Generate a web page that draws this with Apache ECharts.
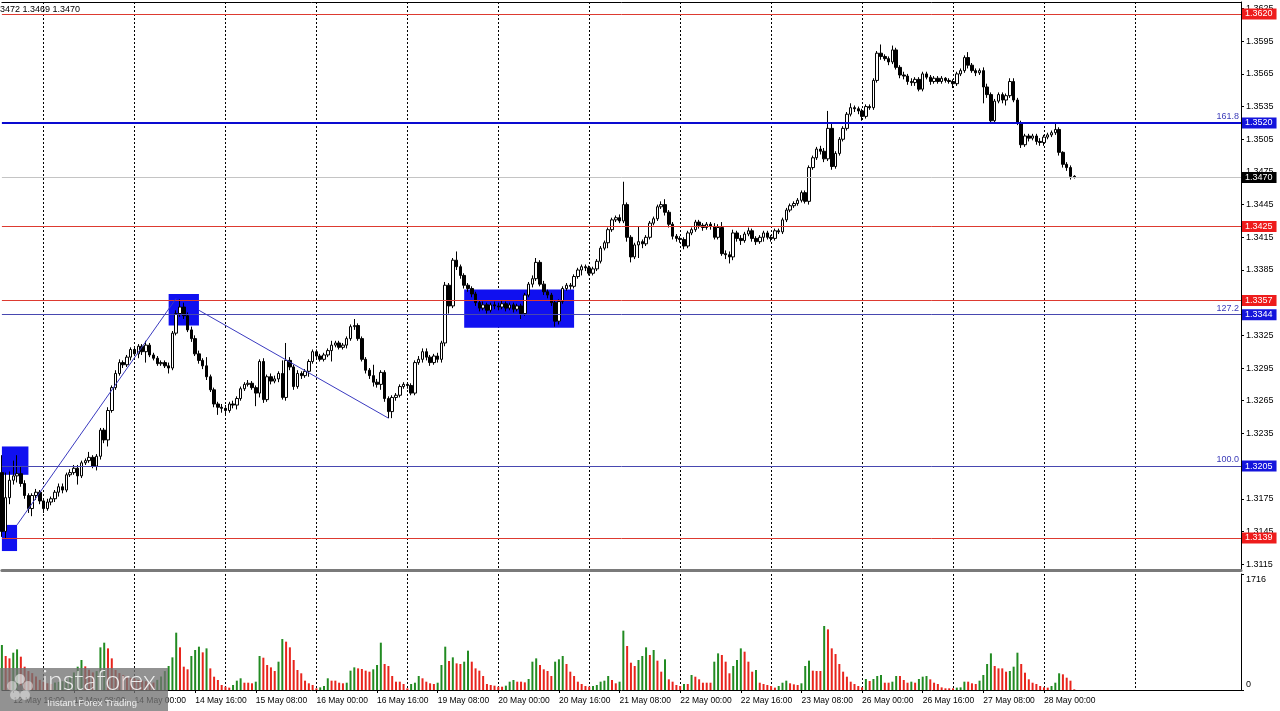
<!DOCTYPE html>
<html><head><meta charset="utf-8">
<script src="https://cdn.jsdelivr.net/npm/echarts@6/dist/echarts.min.js"></script>
<style>html,body{margin:0;padding:0;background:#fff}#c{width:1280px;height:711px}</style>
</head><body><div id="c"></div>
<script>
// ---- timeline (hourly bars, trading days only) ----
const tradingDays = ['12 May','13 May','14 May','15 May','16 May','19 May','20 May','21 May','22 May','23 May','26 May','27 May','28 May','29 May'];
const firstHour = 13;      // first bar on screen: 12 May 13:00
const slotCount = 328;     // bar slots across the chart, incl. empty space on the right

// ---- GBP/USD H1 candles ----
const opens = [
1.3199,1.3145,1.3176,1.3192,1.3196,1.3198,1.3189,1.3178,1.3166,1.3178,
1.3181,1.3173,1.3166,1.3172,1.3175,1.3181,1.3186,1.3183,1.3197,1.3199,
1.3203,1.3196,1.3208,1.3210,1.3213,1.3205,1.3214,1.3238,1.3229,1.3256,
1.3277,1.3290,1.3300,1.3298,1.3305,1.3312,1.3308,1.3315,1.3310,1.3316,
1.3307,1.3304,1.3299,1.3300,1.3297,1.3295,1.3327,1.3345,1.3351,1.3343,
1.3330,1.3322,1.3308,1.3302,1.3297,1.3287,1.3275,1.3262,1.3259,1.3258,
1.3256,1.3262,1.3261,1.3267,1.3276,1.3280,1.3281,1.3277,1.3272,1.3301,
1.3266,1.3287,1.3283,1.3285,1.3290,1.3268,1.3302,1.3296,1.3278,1.3290,
1.3288,1.3292,1.3301,1.3310,1.3306,1.3303,1.3307,1.3311,1.3316,1.3318,
1.3314,1.3316,1.3322,1.3333,1.3334,1.3322,1.3303,1.3293,1.3288,1.3282,
1.3280,1.3291,1.3267,1.3255,1.3268,1.3270,1.3278,1.3280,1.3279,1.3272,
1.3300,1.3303,1.3310,1.3305,1.3300,1.3306,1.3303,1.3318,1.3371,1.3352,
1.3394,1.3388,1.3380,1.3371,1.3368,1.3363,1.3355,1.3350,1.3353,1.3348,
1.3353,1.3352,1.3351,1.3354,1.3350,1.3353,1.3349,1.3352,1.3345,1.3362,
1.3372,1.3377,1.3392,1.3372,1.3365,1.3362,1.3355,1.3338,1.3356,1.3368,
1.3371,1.3370,1.3379,1.3385,1.3388,1.3387,1.3382,1.3386,1.3393,1.3405,
1.3410,1.3422,1.3431,1.3433,1.3430,1.3445,1.3415,1.3397,1.3408,1.3411,
1.3409,1.3415,1.3428,1.3432,1.3443,1.3445,1.3438,1.3427,1.3416,1.3414,
1.3413,1.3407,1.3419,1.3422,1.3429,1.3426,1.3424,1.3427,1.3425,1.3415,
1.3424,1.3400,1.3399,1.3397,1.3419,1.3414,1.3412,1.3418,1.3421,1.3414,
1.3411,1.3415,1.3419,1.3415,1.3414,1.3421,1.3420,1.3431,1.3440,1.3444,
1.3446,1.3449,1.3456,1.3448,1.3479,1.3488,1.3496,1.3494,1.3487,1.3515,
1.3480,1.3492,1.3505,1.3515,1.3528,1.3534,1.3533,1.3531,1.3526,1.3535,
1.3534,1.3559,1.3584,1.3581,1.3579,1.3576,1.3587,1.3571,1.3564,1.3563,
1.3558,1.3557,1.3560,1.3551,1.3565,1.3562,1.3558,1.3561,1.3558,1.3561,
1.3559,1.3558,1.3556,1.3565,1.3568,1.3580,1.3573,1.3568,1.3566,1.3568,
1.3553,1.3546,1.3522,1.3540,1.3546,1.3541,1.3545,1.3558,1.3541,1.3520,
1.3500,1.3508,1.3506,1.3508,1.3503,1.3502,1.3507,1.3509,1.3511,1.3514,
1.3493,1.3482,1.3479,1.3471];
const closes = [
1.3145,1.3176,1.3192,1.3196,1.3198,1.3189,1.3178,1.3166,1.3178,1.3181,
1.3173,1.3166,1.3172,1.3175,1.3181,1.3186,1.3183,1.3197,1.3199,1.3203,
1.3196,1.3208,1.3210,1.3213,1.3205,1.3214,1.3238,1.3229,1.3256,1.3277,
1.3290,1.3300,1.3298,1.3305,1.3312,1.3308,1.3315,1.3310,1.3316,1.3307,
1.3304,1.3299,1.3300,1.3297,1.3295,1.3327,1.3345,1.3351,1.3343,1.3330,
1.3322,1.3308,1.3302,1.3297,1.3287,1.3275,1.3262,1.3259,1.3258,1.3256,
1.3262,1.3261,1.3267,1.3276,1.3280,1.3281,1.3277,1.3272,1.3301,1.3266,
1.3287,1.3283,1.3285,1.3290,1.3268,1.3302,1.3296,1.3278,1.3290,1.3288,
1.3292,1.3301,1.3310,1.3306,1.3303,1.3307,1.3311,1.3316,1.3318,1.3314,
1.3316,1.3322,1.3333,1.3334,1.3322,1.3303,1.3293,1.3288,1.3282,1.3280,
1.3291,1.3267,1.3255,1.3268,1.3270,1.3278,1.3280,1.3279,1.3272,1.3300,
1.3303,1.3310,1.3305,1.3300,1.3306,1.3303,1.3318,1.3371,1.3352,1.3394,
1.3388,1.3380,1.3371,1.3368,1.3363,1.3355,1.3350,1.3353,1.3348,1.3353,
1.3352,1.3351,1.3354,1.3350,1.3353,1.3349,1.3352,1.3345,1.3362,1.3372,
1.3377,1.3392,1.3372,1.3365,1.3362,1.3355,1.3338,1.3356,1.3368,1.3371,
1.3370,1.3379,1.3385,1.3388,1.3387,1.3382,1.3386,1.3393,1.3405,1.3410,
1.3422,1.3431,1.3433,1.3430,1.3445,1.3415,1.3397,1.3408,1.3411,1.3409,
1.3415,1.3428,1.3432,1.3443,1.3445,1.3438,1.3427,1.3416,1.3414,1.3413,
1.3407,1.3419,1.3422,1.3429,1.3426,1.3424,1.3427,1.3425,1.3415,1.3424,
1.3400,1.3399,1.3397,1.3419,1.3414,1.3412,1.3418,1.3421,1.3414,1.3411,
1.3415,1.3419,1.3415,1.3414,1.3421,1.3420,1.3431,1.3440,1.3444,1.3446,
1.3449,1.3456,1.3448,1.3479,1.3488,1.3496,1.3494,1.3487,1.3515,1.3480,
1.3492,1.3505,1.3515,1.3528,1.3534,1.3533,1.3531,1.3526,1.3535,1.3534,
1.3559,1.3584,1.3581,1.3579,1.3576,1.3587,1.3571,1.3564,1.3563,1.3558,
1.3557,1.3560,1.3551,1.3565,1.3562,1.3558,1.3561,1.3558,1.3561,1.3559,
1.3558,1.3556,1.3565,1.3568,1.3580,1.3573,1.3568,1.3566,1.3568,1.3553,
1.3546,1.3522,1.3540,1.3546,1.3541,1.3545,1.3558,1.3541,1.3520,1.3500,
1.3508,1.3506,1.3508,1.3503,1.3502,1.3507,1.3509,1.3511,1.3514,1.3493,
1.3482,1.3479,1.3471,1.3470];
const lows = [
1.3140,1.3139,1.3170,1.3188,1.3190,1.3186,1.3175,1.3162,1.3159,1.3174,
1.3170,1.3162,1.3164,1.3169,1.3172,1.3177,1.3180,1.3181,1.3195,1.3197,
1.3188,1.3194,1.3206,1.3208,1.3203,1.3201,1.3211,1.3226,1.3223,1.3254,
1.3275,1.3288,1.3295,1.3296,1.3302,1.3306,1.3304,1.3307,1.3300,1.3305,
1.3302,1.3297,1.3297,1.3295,1.3290,1.3293,1.3325,1.3342,1.3340,1.3328,
1.3319,1.3306,1.3299,1.3294,1.3284,1.3273,1.3259,1.3252,1.3254,1.3252,
1.3254,1.3258,1.3257,1.3265,1.3274,1.3278,1.3275,1.3260,1.3268,1.3263,
1.3264,1.3280,1.3281,1.3282,1.3266,1.3265,1.3293,1.3275,1.3276,1.3285,
1.3286,1.3287,1.3299,1.3304,1.3301,1.3301,1.3305,1.3301,1.3314,1.3312,
1.3312,1.3313,1.3320,1.3330,1.3320,1.3301,1.3290,1.3285,1.3278,1.3277,
1.3275,1.3264,1.3249,1.3249,1.3265,1.3268,1.3276,1.3276,1.3270,1.3270,
1.3298,1.3300,1.3302,1.3297,1.3298,1.3300,1.3300,1.3315,1.3345,1.3350,
1.3385,1.3377,1.3368,1.3365,1.3360,1.3352,1.3347,1.3348,1.3345,1.3346,
1.3349,1.3348,1.3349,1.3347,1.3348,1.3346,1.3347,1.3340,1.3343,1.3360,
1.3369,1.3375,1.3370,1.3362,1.3359,1.3352,1.3333,1.3335,1.3354,1.3366,
1.3367,1.3368,1.3377,1.3380,1.3384,1.3380,1.3380,1.3384,1.3391,1.3403,
1.3405,1.3420,1.3429,1.3428,1.3428,1.3411,1.3392,1.3395,1.3396,1.3405,
1.3407,1.3413,1.3426,1.3430,1.3441,1.3435,1.3424,1.3413,1.3411,1.3410,
1.3404,1.3405,1.3417,1.3420,1.3423,1.3421,1.3422,1.3422,1.3413,1.3413,
1.3398,1.3395,1.3391,1.3394,1.3411,1.3408,1.3410,1.3416,1.3411,1.3408,
1.3409,1.3411,1.3413,1.3411,1.3412,1.3418,1.3418,1.3429,1.3438,1.3442,
1.3444,1.3447,1.3446,1.3445,1.3477,1.3486,1.3491,1.3484,1.3485,1.3477,
1.3478,1.3490,1.3503,1.3513,1.3526,1.3530,1.3528,1.3522,1.3524,1.3532,
1.3532,1.3557,1.3578,1.3577,1.3573,1.3574,1.3569,1.3561,1.3560,1.3555,
1.3554,1.3554,1.3549,1.3549,1.3560,1.3555,1.3556,1.3556,1.3556,1.3557,
1.3556,1.3552,1.3554,1.3563,1.3566,1.3570,1.3566,1.3563,1.3564,1.3538,
1.3543,1.3519,1.3520,1.3538,1.3538,1.3536,1.3543,1.3539,1.3518,1.3497,
1.3498,1.3503,1.3504,1.3500,1.3499,1.3499,1.3505,1.3507,1.3509,1.3490,
1.3479,1.3476,1.3468,1.3469];
const highs = [
1.3215,1.3199,1.3200,1.3210,1.3215,1.3205,1.3192,1.3180,1.3180,1.3184,
1.3183,1.3175,1.3175,1.3177,1.3183,1.3189,1.3189,1.3199,1.3202,1.3206,
1.3206,1.3210,1.3212,1.3218,1.3215,1.3216,1.3240,1.3240,1.3259,1.3279,
1.3293,1.3303,1.3302,1.3307,1.3314,1.3314,1.3317,1.3317,1.3320,1.3318,
1.3309,1.3306,1.3302,1.3302,1.3300,1.3329,1.3348,1.3358,1.3355,1.3346,
1.3333,1.3325,1.3311,1.3304,1.3305,1.3289,1.3277,1.3264,1.3262,1.3261,
1.3264,1.3265,1.3269,1.3278,1.3282,1.3284,1.3283,1.3279,1.3303,1.3304,
1.3289,1.3290,1.3288,1.3292,1.3302,1.3318,1.3305,1.3298,1.3293,1.3292,
1.3294,1.3303,1.3312,1.3312,1.3308,1.3309,1.3313,1.3320,1.3320,1.3320,
1.3318,1.3324,1.3335,1.3340,1.3336,1.3324,1.3305,1.3295,1.3298,1.3285,
1.3293,1.3293,1.3269,1.3270,1.3272,1.3280,1.3282,1.3282,1.3281,1.3302,
1.3306,1.3313,1.3313,1.3307,1.3308,1.3309,1.3320,1.3374,1.3373,1.3396,
1.3402,1.3390,1.3382,1.3373,1.3370,1.3365,1.3357,1.3356,1.3355,1.3355,
1.3356,1.3355,1.3357,1.3356,1.3355,1.3355,1.3354,1.3354,1.3364,1.3374,
1.3380,1.3396,1.3394,1.3375,1.3367,1.3364,1.3357,1.3358,1.3370,1.3373,
1.3373,1.3381,1.3387,1.3390,1.3390,1.3389,1.3388,1.3395,1.3407,1.3412,
1.3424,1.3433,1.3435,1.3436,1.3466,1.3447,1.3417,1.3410,1.3425,1.3413,
1.3417,1.3430,1.3434,1.3445,1.3448,1.3450,1.3440,1.3429,1.3418,1.3416,
1.3415,1.3421,1.3424,1.3431,1.3431,1.3428,1.3429,1.3429,1.3428,1.3427,
1.3429,1.3403,1.3402,1.3422,1.3421,1.3417,1.3420,1.3424,1.3423,1.3416,
1.3417,1.3421,1.3421,1.3417,1.3423,1.3423,1.3433,1.3442,1.3446,1.3448,
1.3451,1.3458,1.3458,1.3481,1.3490,1.3498,1.3499,1.3497,1.3531,1.3520,
1.3494,1.3507,1.3517,1.3530,1.3538,1.3536,1.3535,1.3533,1.3537,1.3537,
1.3561,1.3586,1.3592,1.3583,1.3581,1.3591,1.3589,1.3573,1.3567,1.3565,
1.3561,1.3562,1.3562,1.3567,1.3567,1.3564,1.3563,1.3563,1.3563,1.3562,
1.3561,1.3560,1.3567,1.3570,1.3582,1.3585,1.3575,1.3570,1.3570,1.3571,
1.3556,1.3548,1.3542,1.3548,1.3548,1.3547,1.3561,1.3561,1.3543,1.3522,
1.3510,1.3510,1.3510,1.3510,1.3506,1.3509,1.3511,1.3513,1.3520,1.3516,
1.3494,1.3484,1.3481,1.3472];
// ---- tick volumes ----
const volumes = [
666,503,468,552,601,493,345,280,250,200,
150,120,100,90,110,120,130,150,200,260,
345,444,350,300,260,280,631,700,616,468,
296,250,220,200,180,170,150,140,130,120,
110,150,200,280,355,483,848,631,345,306,
503,592,641,557,616,320,197,148,74,49,
35,74,138,173,108,108,99,123,503,478,
370,335,281,419,754,715,631,444,296,247,
138,99,74,25,39,59,173,138,138,108,
99,108,286,335,320,311,286,271,306,370,
700,385,355,207,123,123,89,25,89,108,
207,173,123,99,89,108,370,641,429,483,
394,385,419,582,419,320,286,207,89,74,
64,49,49,64,123,148,123,123,113,163,
419,468,370,306,281,207,419,454,503,385,
271,207,123,89,59,49,59,74,123,138,
207,148,99,123,878,651,404,355,444,503,
631,518,592,434,271,454,158,123,74,59,
89,89,222,197,158,108,108,108,419,542,
518,419,247,355,444,616,567,419,271,296,
108,89,74,59,35,59,108,138,99,84,
74,99,355,434,286,281,281,947,897,616,
532,385,271,197,123,89,59,39,163,133,
163,207,222,108,108,123,207,207,148,108,
123,108,163,197,207,158,108,89,39,25,
25,25,35,39,123,123,99,89,138,222,
385,542,355,320,320,271,281,345,552,385,
256,158,108,89,59,39,35,59,108,247,
232,182,138,10];

// ---- axis ticks ----
const priceTicks = [1.3115,1.3145,1.3175,1.3205,1.3235,1.3265,1.3295,1.3325,1.3355,1.3385,1.3415,1.3445,1.3475,1.3505,1.3535,1.3565,1.3595,1.3625];
const volumeTicks = [0, 1716];

// ---- drawn objects ----
const redLevels = [1.3620, 1.3425, 1.3357, 1.3139];
const fibLevels = [1.3520, 1.3344, 1.3205];
const fibNames = ['161.8', '127.2', '100.0'];
const lastPrice = 1.3470;
const headerText = '3472 1.3469 1.3470';
// zones: [first bar, last bar, low, high]
const zones = [[0, 7, 1.3197, 1.3223], [0, 4, 1.3127, 1.3151], [44, 52, 1.3334, 1.3363], [122, 151, 1.3332, 1.3367]];
// trend lines: [bar, price, bar, price]
const trendLines = [[4, 1.3151, 46, 1.3359], [52, 1.3348, 102, 1.3249]];

// ---- build ----
const categories = [];
tradingDays.forEach((d, k) => {
  for (let h = (k === 0 ? firstHour : 0); h < 24; h++) categories.push(d + ' ' + String(h).padStart(2, '0') + ':00');
});
while (categories.length < slotCount) categories.push(' '.repeat(categories.length - 300));
categories.length = slotCount;

const candleData = opens.map((o, i) => [o, closes[i], lows[i], highs[i]]);
const GREEN = '#228b22', RED = '#e8241c';
const volData = volumes.map((v, i) => ({ value: v, itemStyle: { color: (i === 0 || v > volumes[i - 1]) ? GREEN : RED } }));

const FONT = 'Liberation Sans';
const isMidnight = (i) => /00:00$/.test(categories[i] || '');
const isLabelBar = (i) => i % 16 === 3 && i < opens.length;

function boxLabel(bg) {
  return { show: true, position: 'end', distance: 1, formatter: p => Number(p.value).toFixed(4), backgroundColor: bg, color: '#fff',
    fontFamily: FONT, fontSize: 9, padding: [1, 4, 0, 3], lineHeight: 10 };
}
const lineData = [];
redLevels.forEach(v => lineData.push({ yAxis: v, lineStyle: { color: '#dd3a30', width: 1, type: 'solid' }, label: boxLabel('#ee1c1c') }));
fibLevels.forEach((v, i) => {
  lineData.push({ yAxis: v, lineStyle: { color: i === 0 ? '#0a0ad0' : '#4848b0', width: i === 0 ? 2 : 1, type: 'solid' }, label: boxLabel('#1414dc') });
  lineData.push({ yAxis: v, name: fibNames[i], lineStyle: { color: 'rgba(0,0,0,0)', width: 1 },
    label: { show: true, position: 'insideEndTop', distance: 2, formatter: '{b}', color: '#3a3ab8', fontFamily: FONT, fontSize: 9 } });
});
lineData.push({ yAxis: lastPrice, lineStyle: { color: '#c4c4c4', width: 1, type: 'solid' }, label: boxLabel('#000') });
trendLines.forEach(t => lineData.push([
  { coord: [categories[t[0]], t[1]], lineStyle: { color: '#3a3ac0', width: 1, type: 'solid' }, label: { show: false } },
  { coord: [categories[t[2]], t[3]] }
]));

const areaData = zones.map(z => [{ coord: [categories[z[0]], z[3]] }, { coord: [categories[z[1]], z[2]] }]);

const chart = echarts.init(document.getElementById('c'), null, { renderer: 'canvas' });
chart.setOption({
  animation: false,
  backgroundColor: '#fff',
  textStyle: { fontFamily: FONT },
  grid: [
    { left: 1.9, right: 39, top: 2, height: 568 },
    { left: 1.9, right: 39, top: 574, height: 116 }
  ],
  xAxis: [
    { gridIndex: 0, type: 'category', data: categories, boundaryGap: false,
      axisLine: { show: true, lineStyle: { color: '#7a7a7a', width: 3 } }, axisTick: { show: false }, axisLabel: { show: false },
      splitLine: { show: true, interval: isMidnight, lineStyle: { color: '#000', width: 1, type: [2, 2] } } },
    { gridIndex: 0, type: 'category', data: categories, boundaryGap: false, position: 'top',
      axisLine: { show: true, lineStyle: { color: '#000', width: 1 } }, axisTick: { show: false }, axisLabel: { show: false }, splitLine: { show: false } },
    { gridIndex: 1, type: 'category', data: categories, boundaryGap: false, position: 'bottom',
      axisLine: { show: true, lineStyle: { color: '#000', width: 1 } },
      axisTick: { show: true, interval: isLabelBar, length: 3, lineStyle: { color: '#000' } },
      axisLabel: { show: true, interval: isLabelBar, align: 'left', margin: 6, color: '#000', fontSize: 8.5, fontFamily: FONT },
      splitLine: { show: true, interval: isMidnight, lineStyle: { color: '#000', width: 1, type: [2, 2] } } }
  ],
  yAxis: [
    { gridIndex: 0, type: 'value', position: 'right', min: 1.31096, max: 1.3631, scale: true,
      axisLine: { show: true, lineStyle: { color: '#000' } },
      axisTick: { show: true, customValues: priceTicks, length: 3, lineStyle: { color: '#000' } },
      axisLabel: { show: true, customValues: priceTicks, formatter: v => v.toFixed(4), margin: 5, color: '#000', fontSize: 9, fontFamily: FONT },
      splitLine: { show: false } },
    { gridIndex: 1, type: 'value', position: 'right', min: 0, max: 1716,
      axisLine: { show: true, lineStyle: { color: '#000' } },
      axisTick: { show: true, customValues: volumeTicks, length: 3, lineStyle: { color: '#000' } },
      axisLabel: { show: true, customValues: volumeTicks, margin: 5, color: '#000', fontSize: 9, fontFamily: FONT,
        formatter: v => v === 0 ? '{lo|0}' : '{hi|' + v + '}',
        rich: { lo: { padding: [0, 0, 10, 0], fontSize: 9, fontFamily: FONT }, hi: { padding: [12, 0, 0, 0], fontSize: 9, fontFamily: FONT } } },
      splitLine: { show: false } }
  ],
  series: [
    { type: 'line', xAxisIndex: 0, yAxisIndex: 0, data: [], z: 1, silent: true,
      markArea: { silent: true, itemStyle: { color: '#1010f0', opacity: 1 }, data: areaData } },
    { type: 'candlestick', xAxisIndex: 0, yAxisIndex: 0, data: candleData, z: 3, barWidth: 3, clip: false,
      itemStyle: { color: '#fff', color0: '#000', borderColor: '#000', borderColor0: '#000', borderWidth: 1 } },
    { type: 'line', xAxisIndex: 0, yAxisIndex: 0, data: [], z: 5, silent: true,
      markLine: { silent: true, precision: 5, symbol: ['none', 'none'], animation: false, data: lineData } },
    { type: 'bar', xAxisIndex: 2, yAxisIndex: 1, data: volData, barWidth: 2 }
  ],
  graphic: [
    { type: 'text', left: 0, top: 5, z: 10, style: { text: headerText, fill: '#000', font: '9px "Liberation Sans"' } },
    { type: 'rect', z: 20, shape: { x: 0, y: 668, width: 168, height: 43 }, style: { fill: 'rgba(115,115,115,0.78)' } },
    { type: 'group', z: 21, children: [
      { type: 'circle', shape: { cx: 20, cy: 679, r: 5 }, style: { fill: 'rgba(255,255,255,0.55)' }, z: 21 },
      { type: 'circle', shape: { cx: 12, cy: 686, r: 5 }, style: { fill: 'rgba(255,255,255,0.45)' }, z: 21 },
      { type: 'circle', shape: { cx: 28, cy: 686, r: 5 }, style: { fill: 'rgba(255,255,255,0.45)' }, z: 21 },
      { type: 'circle', shape: { cx: 15, cy: 695, r: 5 }, style: { fill: 'rgba(255,255,255,0.45)' }, z: 21 },
      { type: 'circle', shape: { cx: 25, cy: 695, r: 5 }, style: { fill: 'rgba(255,255,255,0.45)' }, z: 21 },
      { type: 'circle', shape: { cx: 20, cy: 688, r: 3 }, style: { fill: 'rgba(120,120,120,0.9)' }, z: 22 }
    ] },
    { type: 'text', z: 22, left: 42, top: 668, style: { text: 'instaforex', fill: 'rgba(255,255,255,0.85)', font: '300 27px Lato' } },
    { type: 'text', z: 22, left: 47, top: 698, style: { text: 'Instant Forex Trading', fill: 'rgba(255,255,255,0.85)', font: '9.5px "Liberation Sans"' } }
  ]
});
</script></body></html>
